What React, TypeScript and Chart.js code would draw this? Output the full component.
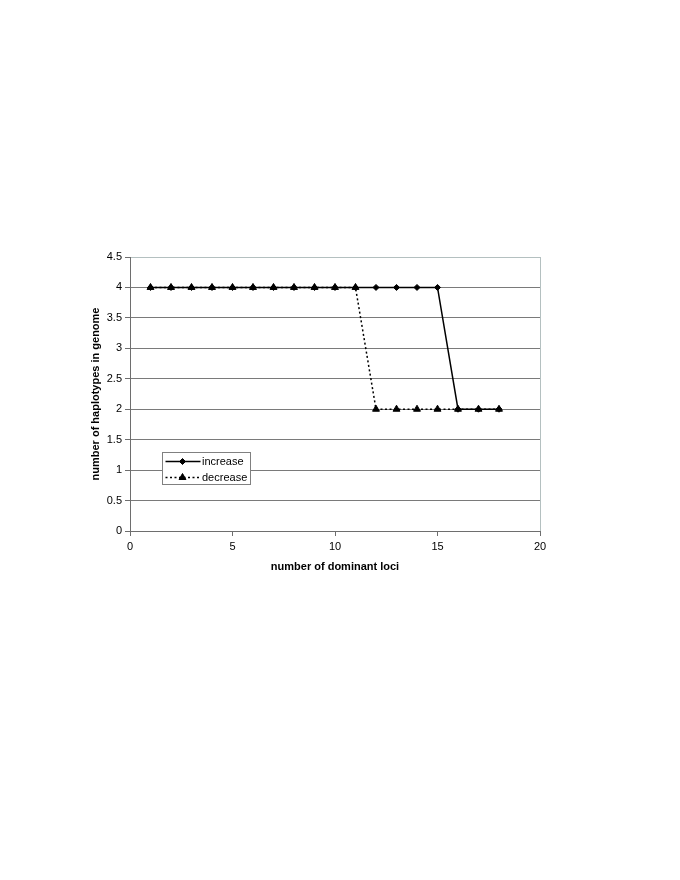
import React, { useEffect, useRef } from "react";
import { Chart, registerables } from "chart.js";

Chart.register(...registerables);

const lociValues = [1, 2, 3, 4, 5, 6, 7, 8, 9, 10, 11, 12, 13, 14, 15, 16, 17, 18];
const increaseValues = [4, 4, 4, 4, 4, 4, 4, 4, 4, 4, 4, 4, 4, 4, 4, 2, 2, 2];
const decreaseValues = [4, 4, 4, 4, 4, 4, 4, 4, 4, 4, 4, 2, 2, 2, 2, 2, 2, 2];
const seriesLabels = ["increase", "decrease"];
const xTitle = "number of dominant loci";
const yTitle = "number of haplotypes in genome";

const FONT = "'Liberation Sans', Arial, Helvetica, sans-serif";
const GRID = "#7a7a7a";
const AXIS = "#6e6e6e";
const FRAME = "#b4c0c0";

function drawMarker(ctx: CanvasRenderingContext2D, style: string, x: number, y: number, r: number) {
  ctx.beginPath();
  if (style === "rectRot") {
    ctx.moveTo(x, y - r);
    ctx.lineTo(x + r, y);
    ctx.lineTo(x, y + r);
    ctx.lineTo(x - r, y);
  } else {
    const s = Math.sin(Math.PI / 3) * r;
    ctx.moveTo(x, y - r);
    ctx.lineTo(x + s, y + r / 2);
    ctx.lineTo(x - s, y + r / 2);
  }
  ctx.closePath();
  ctx.fillStyle = "#000";
  ctx.fill();
  ctx.strokeStyle = "#000";
  ctx.lineWidth = 1;
  ctx.setLineDash([]);
  ctx.stroke();
}

const legendPlugin = {
  id: "boxLegend",
  afterDraw(chart: any) {
    const { ctx, chartArea } = chart;
    const bx = chartArea.left + 32.5;
    const by = chartArea.top + 195.5;
    const bw = 88;
    const bh = 32;
    ctx.save();
    ctx.fillStyle = "#fff";
    ctx.fillRect(bx, by, bw, bh);
    ctx.strokeStyle = "#808080";
    ctx.lineWidth = 1;
    ctx.strokeRect(bx, by, bw, bh);
    chart.data.datasets.forEach((ds: any, i: number) => {
      const cy = by + 9 + i * 16;
      ctx.beginPath();
      ctx.strokeStyle = "#000";
      ctx.lineWidth = ds.borderWidth;
      ctx.setLineDash(ds.borderDash || []);
      ctx.moveTo(bx + 3, cy);
      ctx.lineTo(bx + 38, cy);
      ctx.stroke();
      ctx.setLineDash([]);
      drawMarker(ctx, ds.pointStyle, bx + 20, cy, ds.pointRadius);
      ctx.fillStyle = "#000";
      ctx.font = `11px ${FONT}`;
      ctx.textAlign = "left";
      ctx.textBaseline = "middle";
      ctx.fillText(ds.label, bx + 39.5, cy + 0.5);
    });
    ctx.restore();
  },
};

export default function App() {
  const canvasRef = useRef<HTMLCanvasElement | null>(null);

  useEffect(() => {
    if (!canvasRef.current) return;
    Chart.defaults.font.family = FONT;
    const chart = new Chart(canvasRef.current, {
      type: "line",
      data: {
        datasets: [
          {
            label: seriesLabels[0],
            data: lociValues.map((x, i) => ({ x, y: increaseValues[i] })),
            borderColor: "#000",
            backgroundColor: "#000",
            borderWidth: 1.5,
            pointStyle: "rectRot",
            pointRadius: 3,
            pointBorderWidth: 1,
            pointBackgroundColor: "#000",
            pointBorderColor: "#000",
            order: 1,
          },
          {
            label: seriesLabels[1],
            data: lociValues.map((x, i) => ({ x, y: decreaseValues[i] })),
            borderColor: "#000",
            backgroundColor: "#000",
            borderWidth: 1.5,
            borderDash: [2, 2.5],
            pointStyle: "triangle",
            pointRadius: 4,
            pointBorderWidth: 1,
            pointBackgroundColor: "#000",
            pointBorderColor: "#000",
            order: 0,
          },
        ],
      },
      options: {
        responsive: false,
        animation: false,
        layout: { padding: { left: 0, right: 140, top: 257, bottom: 299 } },
        plugins: {
          legend: { display: false },
          tooltip: { enabled: false },
        },
        scales: {
          x: {
            type: "linear",
            min: 0,
            max: 20,
            afterFit: (s: any) => {
              s.height = 50;
            },
            ticks: {
              stepSize: 5,
              color: "#000",
              padding: 4,
              font: { size: 11 },
              maxRotation: 0,
            },
            grid: {
              drawOnChartArea: true,
              color: (c: any) => (c.tick && c.tick.value === 20 ? FRAME : "rgba(0,0,0,0)"),
              tickColor: AXIS,
              tickLength: 5,
              lineWidth: 1,
            },
            border: { color: AXIS, width: 1 },
            title: {
              display: true,
              text: xTitle,
              color: "#000",
              font: { size: 11, weight: "bold" },
              padding: { top: 0, bottom: 7.7 },
            },
          },
          y: {
            type: "linear",
            min: 0,
            max: 4.5,
            afterFit: (s: any) => {
              s.width = 130;
            },
            ticks: {
              stepSize: 0.5,
              color: "#000",
              padding: 3,
              font: { size: 11 },
              callback: (v: any) => String(v),
            },
            grid: {
              color: (c: any) => (c.tick && c.tick.value === 4.5 ? FRAME : GRID),
              tickColor: AXIS,
              tickLength: 5,
              lineWidth: 1,
            },
            border: { color: AXIS, width: 1 },
            title: {
              display: true,
              text: yTitle,
              color: "#000",
              font: { size: 11, weight: "bold" },
              padding: { top: 89.4, bottom: 0 },
            },
          },
        },
      },
      plugins: [legendPlugin],
    });
    return () => chart.destroy();
  }, []);

  return (
    <canvas
      ref={canvasRef}
      width={680}
      height={880}
      style={{ position: "absolute", left: 0, top: 0, display: "block" }}
    />
  );
}
